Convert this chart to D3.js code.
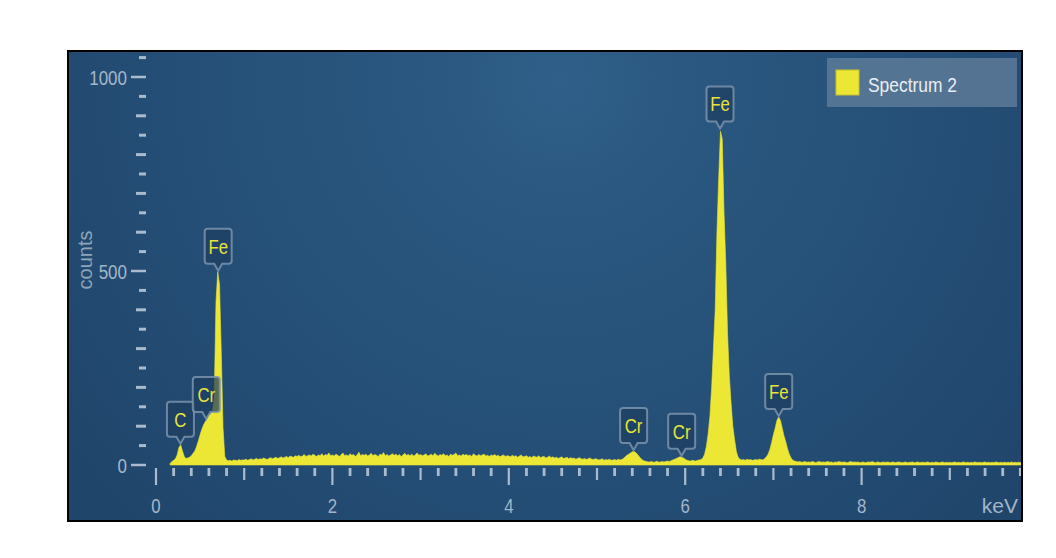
<!DOCTYPE html>
<html><head><meta charset="utf-8">
<script src="https://cdn.jsdelivr.net/npm/d3@7"></script>
<style>
body{margin:0;background:#fff}
text{font-family:"Liberation Sans",Arial,sans-serif}
</style>
</head><body><svg id="c" width="1056" height="558"></svg>
<script>
// ---- data ----
const startKeV = 0.00, stepKeV = 0.02;
const counts = [
  0,0,0,0,0,0,0,0,4,9,12,16,26,45,52,36,22,17,18,20,24,30,36,48,62,78,92,104,112,120,128,132,138,170,420,498,465,290,95,22,13,11,12,10,13,12,11,14,12,13,
  13,15,12,14,16,13,15,17,14,16,15,18,16,14,17,19,16,18,20,17,19,21,18,20,22,19,23,21,20,24,22,25,21,23,27,22,24,26,23,28,25,22,26,24,29,23,27,25,31,24,
  26,23,28,25,22,27,31,24,26,23,29,25,27,22,26,33,24,27,25,28,23,26,30,24,27,25,22,28,26,32,24,27,23,26,29,25,28,24,27,22,26,30,25,27,24,28,23,26,31,25,
  27,24,26,29,23,25,28,24,30,26,23,27,25,29,24,26,22,28,25,27,31,24,26,23,28,25,27,24,26,22,29,25,23,27,24,26,28,23,25,22,26,24,27,23,25,21,24,26,22,24,
  23,21,25,22,24,20,23,26,21,22,24,20,22,19,23,21,20,24,19,21,22,18,20,23,19,21,18,20,17,19,21,17,18,20,16,19,17,18,15,17,19,16,15,17,14,16,18,15,14,16,
  15,13,14,16,12,14,13,15,12,13,14,12,15,13,14,17,21,25,28,31,34,35,32,27,21,16,12,10,9,8,8,9,7,8,10,7,8,9,8,9,10,9,11,13,15,17,19,21,20,18,
  15,12,11,10,12,11,10,12,13,14,18,28,48,80,125,200,300,400,600,740,860,840,650,520,340,230,160,100,65,35,20,15,13,14,12,15,13,14,12,13,14,13,15,14,13,16,21,28,40,58,
  78,95,115,124,115,95,75,60,42,28,18,12,10,9,8,9,7,8,9,7,8,7,9,8,6,8,9,7,8,7,8,9,7,8,6,8,7,9,8,7,8,7,6,8,9,7,8,7,8,6,
  7,8,6,7,8,7,9,7,6,8,7,6,8,7,7,8,6,7,8,6,7,8,7,6,7,8,6,7,7,8,6,7,8,6,7,7,6,8,7,6,7,6,8,7,6,7,8,6,7,6,
  7,6,7,8,6,7,6,7,8,6,7,6,7,6,8,7,6,7,6,7,8,6,7,6,7,6,8,7,6,7,6,7,6,7,6,8,6,7,6,7,6,7
];
const peakElements = ["C","Cr","Fe","Cr","Cr","Fe","Fe"];
const peakKeV = [0.277, 0.57, 0.705, 5.415, 5.96, 6.395, 7.06];
const peakCounts = [52, 116, 498, 36, 21, 865, 124];
const xMajorTicks = [0, 2, 4, 6, 8];
const xTickLabels = ["0", "2", "4", "6", "8"];
const yMajorTicks = [0, 500, 1000];
const yTickLabels = ["0", "500", "1000"];
const xUnit = "keV";
const yTitle = "counts";
const seriesName = "Spectrum 2";

// ---- drawing ----
const svg = d3.select("#c");
const frame = {x0: 68, y0: 51, x1: 1022, y1: 521};
const x = d3.scaleLinear().domain([0, 10]).range([156, 1038]);
const y = d3.scaleLinear().domain([0, 1000]).range([465, 77]);

const defs = svg.append("defs");
const rg = defs.append("radialGradient").attr("id", "bg")
  .attr("gradientUnits", "userSpaceOnUse").attr("cx", 560).attr("cy", 80).attr("r", 620);
rg.append("stop").attr("offset", 0).attr("stop-color", "#30608a");
rg.append("stop").attr("offset", 0.16).attr("stop-color", "#2b5981");
rg.append("stop").attr("offset", 0.6).attr("stop-color", "#254f77");
rg.append("stop").attr("offset", 1).attr("stop-color", "#20456b");
defs.append("clipPath").attr("id", "clip").append("rect")
  .attr("x", frame.x0).attr("y", frame.y0).attr("width", frame.x1 - frame.x0).attr("height", frame.y1 - frame.y0);

svg.append("rect").attr("x", frame.x0).attr("y", frame.y0)
  .attr("width", frame.x1 - frame.x0).attr("height", frame.y1 - frame.y0)
  .attr("fill", "url(#bg)");

const spectrum = counts.map((c, i) => ({e: startKeV + i * stepKeV, c}));
const area = d3.area().x(d => x(d.e)).y0(y(0)).y1(d => y(d.c)).curve(d3.curveLinear);
svg.append("path").datum(spectrum.filter(d => d.c > 0 || d.e > 0.14))
  .attr("clip-path", "url(#clip)")
  .attr("d", area).attr("fill", "#ece635").attr("stroke", "#ece635").attr("stroke-width", 0.6);

// helper: narrow text via horizontal scale
function narrow(sel, sx) {
  sel.attr("transform", function () {
    const tx = +this.getAttribute("x"), ty = +this.getAttribute("y");
    return `translate(${tx},${ty}) scale(${sx},1)`;
  }).attr("x", 0).attr("y", 0);
}

// y ticks
const tickCol = "#a9bbcc";
const labCol = "#a3b6c8";
const yMinor = d3.range(0, 1051, 50).filter(v => !yMajorTicks.includes(v));
svg.append("g").selectAll("line").data(yMinor).join("line")
  .attr("x1", v => v % 100 === 0 ? 136 : 139).attr("x2", 146)
  .attr("y1", v => y(v)).attr("y2", v => y(v))
  .attr("stroke", tickCol).attr("stroke-width", 3);
svg.append("g").selectAll("line").data(yMajorTicks).join("line")
  .attr("x1", 131).attr("x2", 146).attr("y1", v => y(v)).attr("y2", v => y(v))
  .attr("stroke", tickCol).attr("stroke-width", 2.5);
svg.append("g").selectAll("text").data(yMajorTicks).join("text")
  .attr("x", 127).attr("y", v => y(v) + 7.5).attr("text-anchor", "end")
  .attr("font-size", 21).attr("fill", labCol).text((v, i) => yTickLabels[i])
  .call(narrow, 0.81);
svg.append("text").attr("transform", "translate(92,260) rotate(-90)")
  .attr("text-anchor", "middle").attr("font-size", 20).attr("fill", "#8ea4b9").text(yTitle);

// x ticks
const xAll = d3.range(0, 50).map(i => i * 0.2);
svg.append("g").selectAll("line").data(xAll).join("line")
  .attr("x1", v => x(v)).attr("x2", v => x(v)).attr("y1", 468)
  .attr("y2", (v, i) => i % 10 === 0 ? 485 : (i % 5 === 0 ? 480 : 476))
  .attr("stroke", tickCol).attr("stroke-width", (v, i) => i % 5 === 0 ? 2.2 : 2.8);
svg.append("g").selectAll("text").data(xMajorTicks).join("text")
  .attr("x", v => x(v)).attr("y", 513).attr("text-anchor", "middle")
  .attr("font-size", 21).attr("fill", labCol).text((v, i) => xTickLabels[i])
  .call(narrow, 0.8);
svg.append("text").attr("x", 1018).attr("y", 513).attr("text-anchor", "end")
  .attr("font-size", 21).attr("fill", labCol).text(xUnit);

// peak labels
const bw = 27, bh = 35, gap = 8;
const lbl = svg.append("g").selectAll("g").data(peakElements).join("g")
  .attr("transform", (d, i) => `translate(${x(peakKeV[i])},${y(peakCounts[i])})`);
lbl.append("path")
  .attr("d", () => {
    const l = -bw / 2, r = bw / 2, b = -gap, t = -gap - bh, rr = 3;
    return `M${l + rr},${t} H${r - rr} Q${r},${t} ${r},${t + rr} V${b - rr} Q${r},${b} ${r - rr},${b}` +
      ` H4 L0,-1 L-4,${b} H${l + rr} Q${l},${b} ${l},${b - rr} V${t + rr} Q${l},${t} ${l + rr},${t} Z`;
  })
  .attr("fill", "#1d3e5f").attr("fill-opacity", 0.72)
  .attr("stroke", "#7b93ab").attr("stroke-opacity", 0.85).attr("stroke-width", 2);
lbl.append("text").attr("transform", `translate(0,${-gap - 10}) scale(0.8,1)`)
  .attr("text-anchor", "middle")
  .attr("font-size", 21).attr("fill", "#e9e43a").text(d => d);

// frame
svg.append("rect").attr("x", frame.x0).attr("y", frame.y0)
  .attr("width", frame.x1 - frame.x0).attr("height", frame.y1 - frame.y0)
  .attr("fill", "none").attr("stroke", "#000").attr("stroke-width", 2);

// legend
const lg = svg.append("g");
lg.append("rect").attr("x", 827).attr("y", 58).attr("width", 190).attr("height", 49)
  .attr("fill", "#5a7896").attr("fill-opacity", 0.9);
lg.append("rect").attr("x", 836).attr("y", 70).attr("width", 23).attr("height", 25)
  .attr("fill", "#ece635").attr("stroke", "#c9c22a").attr("stroke-width", 1);
lg.append("text").attr("transform", "translate(868,92) scale(0.83,1)").attr("font-size", 21)
  .attr("fill", "#e8eef4").text(seriesName);
</script>
</body></html>
